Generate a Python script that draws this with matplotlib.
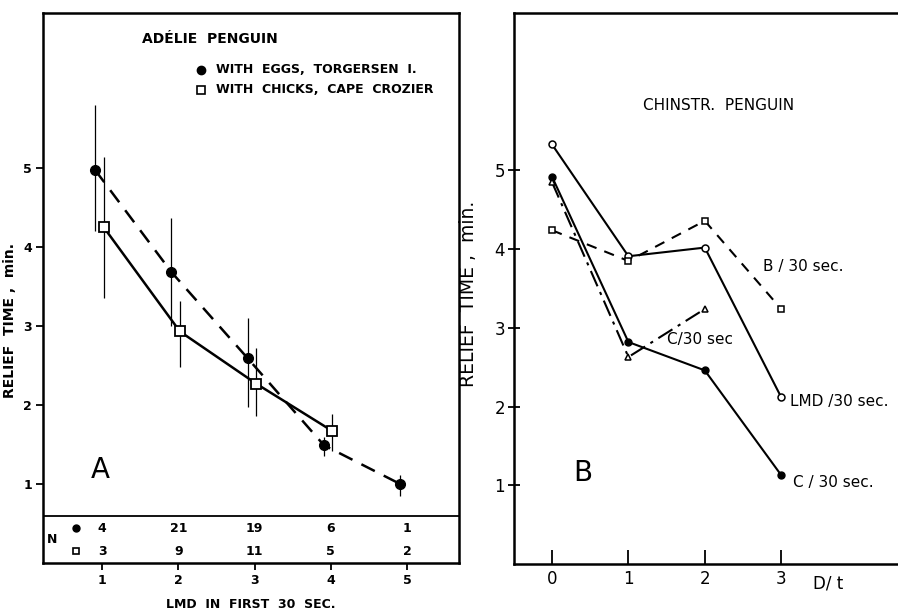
import matplotlib
matplotlib.use('Agg')
import matplotlib.pyplot as plt
import numpy as np

# =================================================================
#                   DADOS - PAINEL A (ADÉLIE)
# =================================================================
lmd = np.array([1, 2, 3, 4, 5])

# com ovos, Torgersen I. (círculo cheio, tracejado)
ovos_y  = np.array([4.97, 3.68, 2.59, 1.49, 1.00])
ovos_lo = np.array([4.20, 3.00, 1.97, 1.35, 0.85])
ovos_hi = np.array([5.80, 4.37, 3.10, 1.60, 1.12])
ovos_n  = ['4', '21', '19', '6', '1']

# com filhotes, Cape Crozier (quadrado aberto, contínuo)
lmd_ch = np.array([1, 2, 3, 4])
chick_y  = np.array([4.25, 2.93, 2.27, 1.67])
chick_lo = np.array([3.35, 2.48, 1.86, 1.42])
chick_hi = np.array([5.14, 3.31, 2.72, 1.88])
chick_n  = ['3', '9', '11', '5', '2']

# =================================================================
#                   DADOS - PAINEL B (CHINSTRAP)
# =================================================================
dt = np.array([0, 1, 2, 3])
lmd30   = np.array([5.33, 3.91, 4.02, 2.12])   # círculo aberto
b30     = np.array([4.24, 3.85, 4.36, 3.24])   # quadrado, tracejado
c30     = np.array([4.92, 2.82, 2.46, 1.13])   # círculo cheio
dt_tri  = np.array([0, 1, 2])
c30_tri = np.array([4.85, 2.63, 3.24])         # triângulo, traço-ponto

# =================================================================
#                   FIGURA
# =================================================================
fig = plt.figure(figsize=(8.98, 6.14), dpi=100)
axA = fig.add_axes([0.048, 0.083, 0.463, 0.896])
axB = fig.add_axes([0.5724, 0.0814, 0.4276, 0.8974])

for ax in (axA, axB):
    for s in ax.spines.values():
        s.set_linewidth(1.8)

# ---------------- painel A ----------------
axA.errorbar(lmd - 0.09, ovos_y, yerr=[ovos_y - ovos_lo, ovos_hi - ovos_y],
             fmt='o', color='black', ms=7, elinewidth=0.9, capsize=0, zorder=4)
axA.plot(lmd - 0.09, ovos_y, color='black', ls=(0, (6, 4)), lw=1.8, zorder=3)

axA.errorbar(lmd_ch + 0.02, chick_y, yerr=[chick_y - chick_lo, chick_hi - chick_y],
             fmt='s', mfc='white', mec='black', mew=1.3, color='black', ms=7,
             elinewidth=0.9, capsize=0, zorder=5)
axA.plot(lmd_ch + 0.02, chick_y, color='black', lw=1.8, zorder=3)

axA.set_xlim(0.226, 5.68)
axA.set_ylim(0, 6.96)
axA.set_xticks(lmd)
axA.set_xticklabels([str(v) for v in lmd], fontweight='bold', fontsize=9)
axA.set_yticks([1, 2, 3, 4, 5])
axA.set_yticklabels(['1', '2', '3', '4', '5'], fontweight='bold', fontsize=9)
axA.tick_params(axis='both', direction='out', length=5, width=1.3, pad=3)
axA.set_xlabel('LMD  IN  FIRST  30  SEC.', fontsize=9, fontweight='bold', labelpad=8)
axA.set_ylabel('RELIEF  TIME ,  min.', fontsize=10, fontweight='bold')
axA.yaxis.set_label_coords(-0.062, 0.44)

axA.text(1.52, 6.63, 'ADÉLIE  PENGUIN', fontsize=10, fontweight='bold', va='center')
axA.plot([2.30], [6.24], 'o', color='black', ms=6)
axA.plot([2.30], [5.99], 's', mfc='white', mec='black', mew=1.2, ms=5.5)
axA.text(2.50, 6.24, 'WITH  EGGS,  TORGERSEN  I.', fontsize=9, fontweight='bold', va='center')
axA.text(2.50, 5.99, 'WITH  CHICKS,  CAPE  CROZIER', fontsize=9, fontweight='bold', va='center')
axA.text(0.98, 1.18, 'A', fontsize=20, ha='center', va='center')

# tabela N
axA.axhline(0.59, color='black', lw=1.3)
axA.text(0.34, 0.30, 'N', fontsize=9, fontweight='bold', va='center', ha='center')
axA.plot([0.66], [0.44], 'o', color='black', ms=5)
axA.plot([0.66], [0.15], 's', mfc='white', mec='black', mew=1.2, ms=4.5)
for x, a, b in zip(lmd, ovos_n, chick_n):
    axA.text(x, 0.44, a, fontsize=9, fontweight='bold', ha='center', va='center')
    axA.text(x, 0.15, b, fontsize=9, fontweight='bold', ha='center', va='center')

# ---------------- painel B ----------------
axB.plot(dt, lmd30, '-o', color='black', mfc='white', mec='black', ms=5, mew=1.1, lw=1.5)
axB.plot(dt, b30, 's', color='black', mfc='white', mec='black', ms=5, mew=1.1,
         ls=(0, (5, 4)), lw=1.5)
axB.plot(dt, c30, '-o', color='black', ms=5, lw=1.5)
axB.plot(dt_tri, c30_tri, '^', color='black', mfc='white', mec='black', ms=5, mew=1.1,
         ls=(0, (8, 3, 1.5, 3)), lw=1.5)

axB.set_xlim(-0.498, 4.53)
axB.set_ylim(0, 7.0)
axB.spines['right'].set_visible(False)
axB.set_xticks(dt)
axB.set_yticks([1, 2, 3, 4, 5])
axB.tick_params(axis='x', direction='in', length=10, width=1.3, labelsize=12, pad=4)
axB.tick_params(axis='y', direction='inout', length=9, width=1.3, labelsize=12, pad=2)
axB.set_ylabel('RELIEF  TIME ,  min.', fontsize=13.5)
axB.yaxis.set_label_coords(-0.094, 0.49)
axB.text(3.62, -0.25, 'D/ t', fontsize=12, ha='center', va='center')

axB.text(1.19, 5.83, 'CHINSTR.  PENGUIN', fontsize=11, va='center')
axB.text(0.40, 1.15, 'B', fontsize=20, ha='center', va='center')
axB.text(2.76, 3.78, 'B / 30 sec.', fontsize=11, va='center')
axB.text(1.50, 2.85, 'C/30 sec', fontsize=11, va='center')
axB.text(3.11, 2.06, 'LMD /30 sec.', fontsize=11, va='center')
axB.text(3.15, 1.04, 'C / 30 sec.', fontsize=11, va='center')

fig.savefig('out.png', dpi=100)
